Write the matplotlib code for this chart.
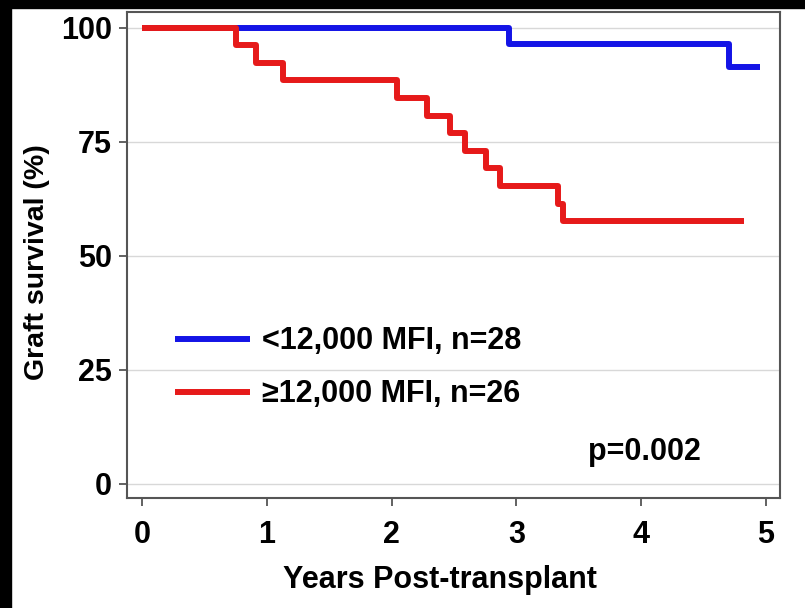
import matplotlib
matplotlib.use("Agg")
import matplotlib.pyplot as plt
from matplotlib.patches import Rectangle

# Kaplan-Meier steps
blue_times = [0, 2.94, 4.70, 4.95]
blue_surv = [100, 96.4, 91.5, 91.5]
red_times = [0, 0.75, 0.91, 1.13, 2.04, 2.28, 2.47, 2.59, 2.76, 2.87, 3.33, 3.37, 4.82]
red_surv = [100, 96.2, 92.3, 88.5, 84.6, 80.8, 76.9, 73.1, 69.2, 65.4, 61.5, 57.7, 57.7]

labels = ['<12,000 MFI, n=28', '\u226512,000 MFI, n=26']
x_ticks = [0, 1, 2, 3, 4, 5]
y_ticks = [0, 25, 50, 75, 100]
p_text = 'p=0.002'

fam = ['Liberation Sans', 'DejaVu Sans']

fig = plt.figure(figsize=(8.05, 6.08), dpi=100, facecolor='white')
ax = fig.add_axes([127/805, 1 - 498/608, (780-127)/805, (498-12)/608])

ax.step(blue_times, blue_surv, where='post', color='#1414e6', lw=4.3,
        solid_capstyle='butt', label=labels[0], zorder=3)
ax.step(red_times, red_surv, where='post', color='#e61a1a', lw=4.3,
        solid_capstyle='butt', label=labels[1], zorder=4)

ax.set_xlim(-0.12, 5.112)
ax.set_ylim(-3.07, 103.5)
ax.set_xticks(x_ticks)
ax.set_yticks(y_ticks)
ax.grid(axis='y', color='#d8d8d8', lw=1)
ax.set_axisbelow(True)

for s in ax.spines.values():
    s.set_color('#555555')
    s.set_linewidth(1.5)
ax.tick_params(direction='out', length=6, width=1.3, color='#555555')
ax.tick_params(axis='x', pad=10)
ax.tick_params(axis='y', pad=5)
for lab in ax.get_xticklabels() + ax.get_yticklabels():
    lab.set_family(fam)
    lab.set_fontweight('bold')
    lab.set_fontsize(22)

ax.set_xlabel('Years Post-transplant', family=fam, fontweight='bold',
              fontsize=22, va='center')
ax.xaxis.set_label_coords(0.479, -0.169)
ax.set_ylabel('Graft survival (%)', family=fam, fontweight='bold',
              fontsize=20.5, va='center')
ax.yaxis.set_label_coords(-0.138, 0.486)

leg = ax.legend(loc='center left', bbox_to_anchor=(48/653, 0.268), frameon=False,
                prop={'family': fam, 'weight': 'bold', 'size': 22},
                handlelength=2.45, handletextpad=0.4, labelspacing=0.75,
                borderpad=0, borderaxespad=0)

ax.text(0.793, 0.095, p_text, transform=ax.transAxes, family=fam,
        fontweight='bold', fontsize=22, ha='center', va='center')

# black frame strips along the top and left edges of the scan
fig.patches.append(Rectangle((0, 1 - 8/608), 1, 8/608, transform=fig.transFigure,
                             color='black', zorder=10))
fig.patches.append(Rectangle((0, 0), 11/805, 1, transform=fig.transFigure,
                             color='black', zorder=10))

fig.savefig('out.png', dpi=100, facecolor='white')
